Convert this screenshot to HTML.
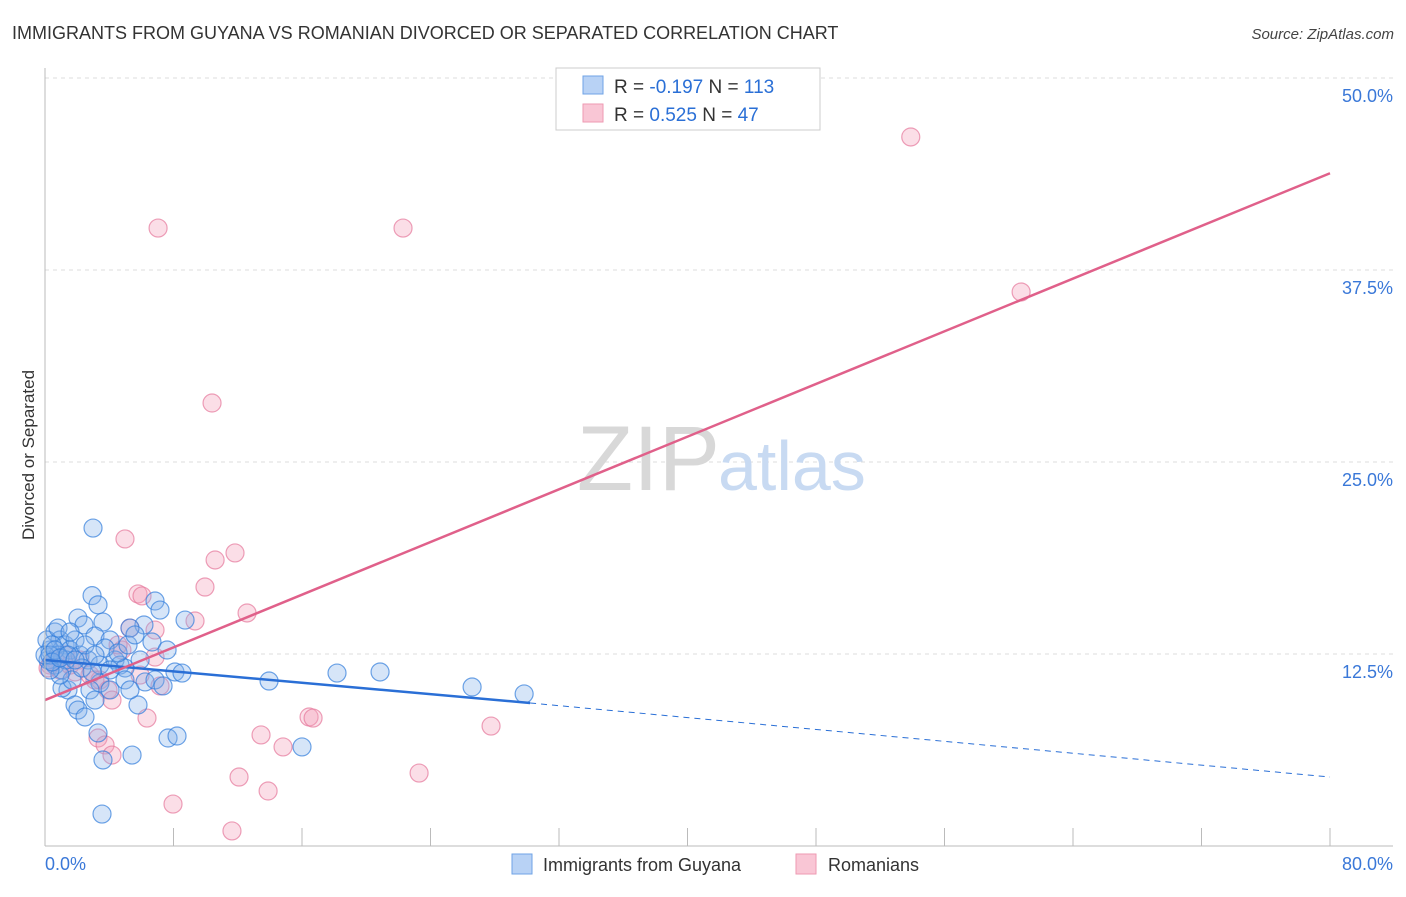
<!DOCTYPE html>
<html><head><meta charset="utf-8"><style>
body{margin:0;background:#fff;font-family:"Liberation Sans",sans-serif}
svg text{font-family:"Liberation Sans",sans-serif}
</style></head><body>
<svg width="1406" height="892" viewBox="0 0 1406 892">
<text x="12" y="39" font-size="18" fill="#333">IMMIGRANTS FROM GUYANA VS ROMANIAN DIVORCED OR SEPARATED CORRELATION CHART</text>
<text x="1394" y="39" font-size="15" fill="#444" font-style="italic" text-anchor="end">Source: ZipAtlas.com</text>
<text x="34" y="455" font-size="17" fill="#333" text-anchor="middle" transform="rotate(-90 34 455)">Divorced or Separated</text>
<g id="grid"></g>
<text x="720" y="490" font-size="92" fill="#d8d8d8" text-anchor="end" font-family="Liberation Serif">ZIP</text>
<text x="718" y="490" font-size="70" fill="#c8daf2">atlas</text>
<g id="pts"></g>
<g id="trend"></g>
<g id="axes"></g>
<g>
<rect x="556" y="68" width="264" height="62" fill="#fff" stroke="#ccc"/>
<rect x="583" y="76" width="20" height="18" fill="#b8d2f5" stroke="#6fa3e6"/>
<rect x="583" y="104" width="20" height="18" fill="#f9c6d5" stroke="#ee9ab2"/>
<text x="614" y="93" font-size="19" fill="#333">R = <tspan fill="#2a6fd6">-0.197</tspan>   N = <tspan fill="#2a6fd6">113</tspan></text>
<text x="614" y="121" font-size="19" fill="#333">R =  <tspan fill="#2a6fd6">0.525</tspan>   N =  <tspan fill="#2a6fd6">47</tspan></text>
</g>
<g>
<rect x="512" y="854" width="20" height="20" fill="#b8d2f5" stroke="#6fa3e6"/>
<text x="543" y="871" font-size="18" fill="#333">Immigrants from Guyana</text>
<rect x="796" y="854" width="20" height="20" fill="#f9c6d5" stroke="#ee9ab2"/>
<text x="828" y="871" font-size="18" fill="#333">Romanians</text>
</g>
</svg>
<script>
const blueX=[2.99,2.93,3.3,6.85,7.16,2.05,2.43,3.61,6.16,8.72,5.29,3.11,4.05,6.66,7.6,0.62,0.93,1.25,1.56,1.87,0.31,0.19,0.62,1.06,2.18,2.68,3.42,4.36,4.67,4.98,5.92,8.09,8.53,6.23,6.85,7.35,3.42,4.05,2.8,1.43,1.06,1.68,1.87,2.05,2.49,3.11,5.79,3.3,3.61,5.42,7.66,8.22,3.55,13.95,18.18,20.86,26.59,29.83,16.0,0.12,0.44,0.81,1.31,2.3,2.93,3.74,4.55,5.17,5.6,0.81,1.56,2.49,3.11,4.05,0.93,0.31,0,4.98,5.29,0.31,0.62,0.44,0.93,1.43,1.87];
const blueY=[20.7,16.3,15.7,15.95,15.36,14.84,14.39,14.58,14.39,14.71,14.19,13.67,13.41,13.28,12.76,13.93,13.41,13.09,12.76,13.41,12.76,12.11,11.78,11.46,12.43,12.11,11.78,12.11,11.78,11.59,12.11,11.33,11.26,10.68,10.81,10.42,10.61,10.16,10.16,10.16,10.29,10.81,9.18,8.85,8.4,9.5,9.18,7.36,5.6,5.92,7.03,7.16,2.08,10.74,11.26,11.33,10.35,9.9,6.45,13.41,13.09,12.43,12.11,11.59,11.33,12.89,12.57,13.09,13.74,14.19,13.93,13.09,12.43,11.46,11.13,11.46,12.43,10.81,10.16,12.43,12.76,11.98,12.24,12.43,12.11];
const pinkX=[53.9,7.04,22.29,10.4,60.77,4.98,11.83,10.59,9.96,5.79,6.04,12.58,9.34,5.29,6.85,4.79,6.85,0.31,0.93,1.56,2.18,2.8,3.42,5.92,7.16,3.92,4.17,3.3,3.74,4.17,6.35,13.45,14.82,16.44,16.69,27.77,23.29,12.08,13.89,7.97,11.64,3.11,1.25,0.62,0.19,1.87,4.55];
const pinkY=[46.16,40.23,40.23,28.84,36.07,19.99,19.08,18.62,16.86,16.41,16.28,15.17,14.65,14.19,14.06,12.76,12.3,11.78,11.46,11.78,12.11,11.13,10.81,11.13,10.42,10.16,9.5,7.03,6.58,5.92,8.33,7.23,6.45,8.4,8.33,7.81,4.75,4.49,3.58,2.73,0.98,10.81,12.43,12.11,11.59,11.33,13.09];
const blueTrendX=[0,30.2,80];
const blueTrendY=[12.11,9.31,4.49];
const pinkTrendX=[0,80];
const pinkTrendY=[9.5,43.8];
const yTicks=[12.5,25,37.5,50];
const yTickLabels=["12.5%","25.0%","37.5%","50.0%"];
const xTicks=[0,8,16,24,32,40,48,56,64,72,80];

const NS="http://www.w3.org/2000/svg";
const X=v=>45+v*(1330-45)/80;
const Y=v=>846-v*(846-78)/50;
function mk(t,a,p){const e=document.createElementNS(NS,t);for(const k in a)e.setAttribute(k,a[k]);p.appendChild(e);return e;}
const grid=document.getElementById('grid'),pts=document.getElementById('pts'),tr=document.getElementById('trend'),ax=document.getElementById('axes');
yTicks.forEach((v,i)=>{
 const l=mk('line',{x1:45,x2:1393,y1:Y(v),y2:Y(v),stroke:'#ddd','stroke-dasharray':'4,4'},grid);
 
 
 const t=mk('text',{x:1393,y:Y(v)+24,'font-size':18,fill:'#3a78d8','text-anchor':'end'},grid);
 t.textContent=yTickLabels[i];
 
 
});
pinkX.forEach((x,i)=>{
 const c=mk('circle',{cx:X(x),cy:Y(pinkY[i]),r:9,fill:'rgba(244,160,185,0.35)',stroke:'rgba(230,120,155,0.7)','stroke-width':1.2},pts);
 
 
});
blueX.forEach((x,i)=>{
 const c=mk('circle',{cx:X(x),cy:Y(blueY[i]),r:9,fill:'rgba(130,175,235,0.33)',stroke:'rgba(50,125,220,0.7)','stroke-width':1.2},pts);
 
 
});
let l1=mk('line',{x1:X(blueTrendX[0]),y1:Y(blueTrendY[0]),x2:X(blueTrendX[1]),y2:Y(blueTrendY[1]),stroke:'#2a6fd6','stroke-width':2.5},tr);


let l2=mk('line',{x1:X(blueTrendX[1]),y1:Y(blueTrendY[1]),x2:X(blueTrendX[2]),y2:Y(blueTrendY[2]),stroke:'#2a6fd6','stroke-width':1,'stroke-dasharray':'6,5'},tr);


let l3=mk('line',{x1:X(pinkTrendX[0]),y1:Y(pinkTrendY[0]),x2:X(pinkTrendX[1]),y2:Y(pinkTrendY[1]),stroke:'#e0608a','stroke-width':2.5},tr);


let a1=mk('line',{x1:45,x2:45,y1:68,y2:846,stroke:'#bbb'},ax);


let a2=mk('line',{x1:45,x2:1393,y1:846,y2:846,stroke:'#bbb'},ax);


xTicks.forEach(v=>{
 const t=mk('line',{x1:X(v),x2:X(v),y1:828,y2:846,stroke:'#bbb'},ax);
 
 
});
let xl=mk('text',{x:45,y:870,'font-size':18,fill:'#3a78d8'},ax);xl.textContent='0.0%';


let xr=mk('text',{x:1393,y:870,'font-size':18,fill:'#3a78d8','text-anchor':'end'},ax);xr.textContent='80.0%';


</script>
</body></html>
